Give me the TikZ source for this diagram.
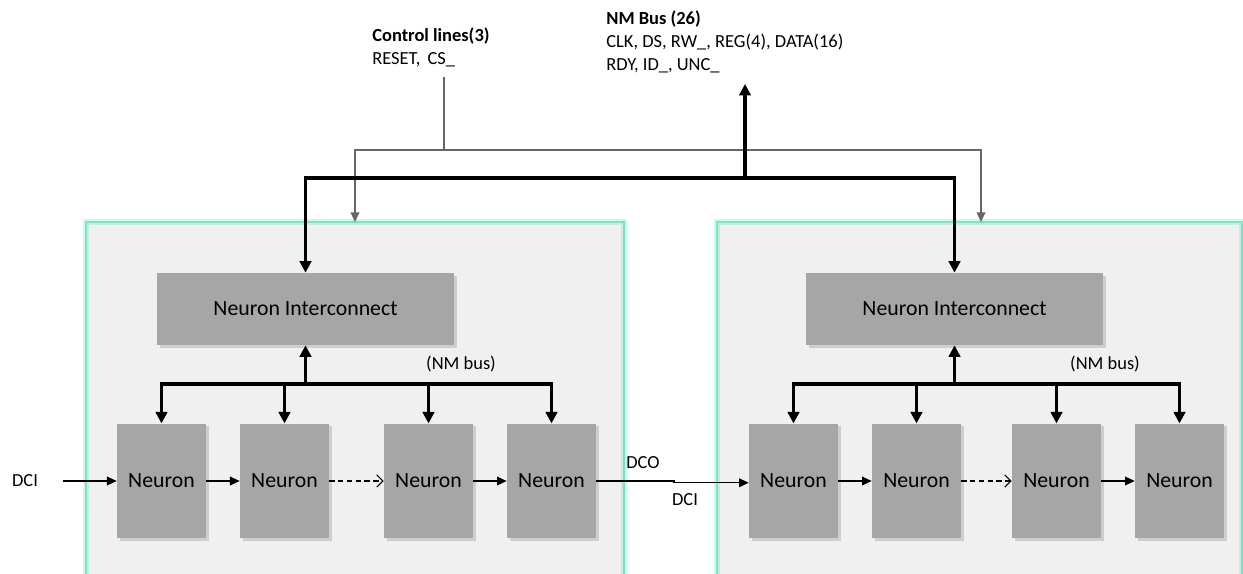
\documentclass[tikz,border=0pt]{standalone}
\usepackage{fontspec}
\setmainfont{Carlito}
\usetikzlibrary{arrows.meta,backgrounds,shadows}
\definecolor{panelfill}{RGB}{240,240,240}
\definecolor{paneledge}{RGB}{122,228,198}
\definecolor{boxfill}{RGB}{166,166,166}

\begin{document}
\begin{tikzpicture}[x=0.02cm, y=-0.02cm,
  every node/.style={inner sep=0pt},
  lbl/.style={font=\fontsize{10.5}{13}\selectfont, align=left},
  box/.style={fill=boxfill, font=\fontsize{12.4}{14}\selectfont,
    drop shadow={opacity=0.3, shadow xshift=1.5pt, shadow yshift=-1.5pt}},
  neuron/.style={box, minimum width=1.78cm, minimum height=2.29cm},
  inter/.style={box, minimum width=5.94cm, minimum height=1.44cm},
  sig/.style={line width=0.6pt, -{Triangle[length=5.5pt, width=5pt]}},
  dsig/.style={line width=0.6pt, dash pattern=on 3pt off 2pt, -{Straight Barb[length=3.5pt, width=7pt]}},
  bus/.style={line width=1.9pt, -{Triangle[length=6.5pt, width=6.5pt]}},
  ctl/.style={line width=0.7pt, draw=black!60}]
\useasboundingbox (0,0) rectangle (1243,574);

% top labels
\node[lbl, anchor=west] (ctltxt) at (372,47) {\textbf{Control lines(3)}\\RESET,\, CS\_};
\node[lbl, anchor=west] (bustxt) at (606,42) {\textbf{NM Bus (26)}\\CLK, DS, RW\_, REG(4), DATA(16)\\RDY, ID\_, UNC\_};

% two neuron blocks
\node[inter] (NI1) at (305.5,309) {Neuron Interconnect};
\node[inter] (NI2) at (954.5,309) {Neuron Interconnect};
\foreach \n/\x in {N1/161.5, N2/284.5, N3/428.5, N4/551.5,
                   N5/793.5, N6/916.5, N7/1056.5, N8/1179.5}
  \node[neuron] (\n) at (\x,481) {Neuron};

\begin{scope}[on background layer]
  \fill[panelfill] (86,222) rectangle (624,580);
  \fill[panelfill] (717,222) rectangle (1242,580);
  \draw[paneledge, line width=3pt, opacity=0.35] (86,580) -- (86,222) -- (624,222) -- (624,580);
  \draw[paneledge, line width=3pt, opacity=0.35] (717,580) -- (717,222) -- (1242,222) -- (1242,580);
  \draw[paneledge, line width=1.2pt] (86,580) -- (86,222) -- (624,222) -- (624,580);
  \draw[paneledge, line width=1.2pt] (717,580) -- (717,222) -- (1242,222) -- (1242,580);
\end{scope}

% control lines
\coordinate (ctltop) at (444,77);
\coordinate (ctlj) at (444,150);
\coordinate (ctlL) at (355,222);
\coordinate (ctlR) at (981,222);
\draw[ctl] (ctltop) -- (ctlj);
\draw[ctl, {Triangle[length=5.5pt, width=5pt]}-{Triangle[length=5.5pt, width=5pt]}]
  (ctlL) -- (ctlL |- ctlj) -- (ctlR |- ctlj) -- (ctlR);

% NM bus
\coordinate (busj) at (745,178);
\coordinate (busout) at (745,84);
\draw[bus] (busj) -- (busout);
\draw[bus, {Triangle[length=6.5pt, width=6.5pt]}-{Triangle[length=6.5pt, width=6.5pt]}]
  (NI1.north) -- (NI1.north |- busj) -- (NI2.north |- busj) -- (NI2.north);

% local buses
\coordinate (bl1) at (NI1.south |- 0,384);
\coordinate (bl2) at (NI2.south |- 0,384);
\draw[bus] (bl1) -- (NI1.south);
\draw[bus] (bl2) -- (NI2.south);
\draw[bus, {Triangle[length=6.5pt, width=6.5pt]}-{Triangle[length=6.5pt, width=6.5pt]}]
  (N1.north) -- (N1.north |- bl1) -- (N4.north |- bl1) -- (N4.north);
\draw[bus, {Triangle[length=6.5pt, width=6.5pt]}-{Triangle[length=6.5pt, width=6.5pt]}]
  (N5.north) -- (N5.north |- bl2) -- (N8.north |- bl2) -- (N8.north);
\foreach \n in {N2,N3,N6,N7}
  \draw[bus] (\n.north |- bl1) -- (\n.north);
\node[lbl] (nm1) at (461,364) {(NM bus)};
\node[lbl] (nm2) at (1105,364) {(NM bus)};

% daisy chain
\node[lbl] (dci1) at (25,481) {DCI};
\coordinate (dciin) at (63,481);
\draw[sig] (dciin) -- (N1.west);
\draw[sig] (N1) -- (N2);
\draw[dsig] (N2) -- (N3);
\draw[sig] (N3) -- (N4);
\draw[sig] (N5) -- (N6);
\draw[dsig] (N6) -- (N7);
\draw[sig] (N7) -- (N8);
\coordinate (jog) at (674,481);
\draw[sig] (N4.east) -- (jog) -- ([yshift=-1pt]jog) -- ([yshift=-1pt]N5.west);
\node[lbl] (dco) at (643,463) {DCO};
\node[lbl] (dci2) at (685,500) {DCI};
\end{tikzpicture}
\end{document}
